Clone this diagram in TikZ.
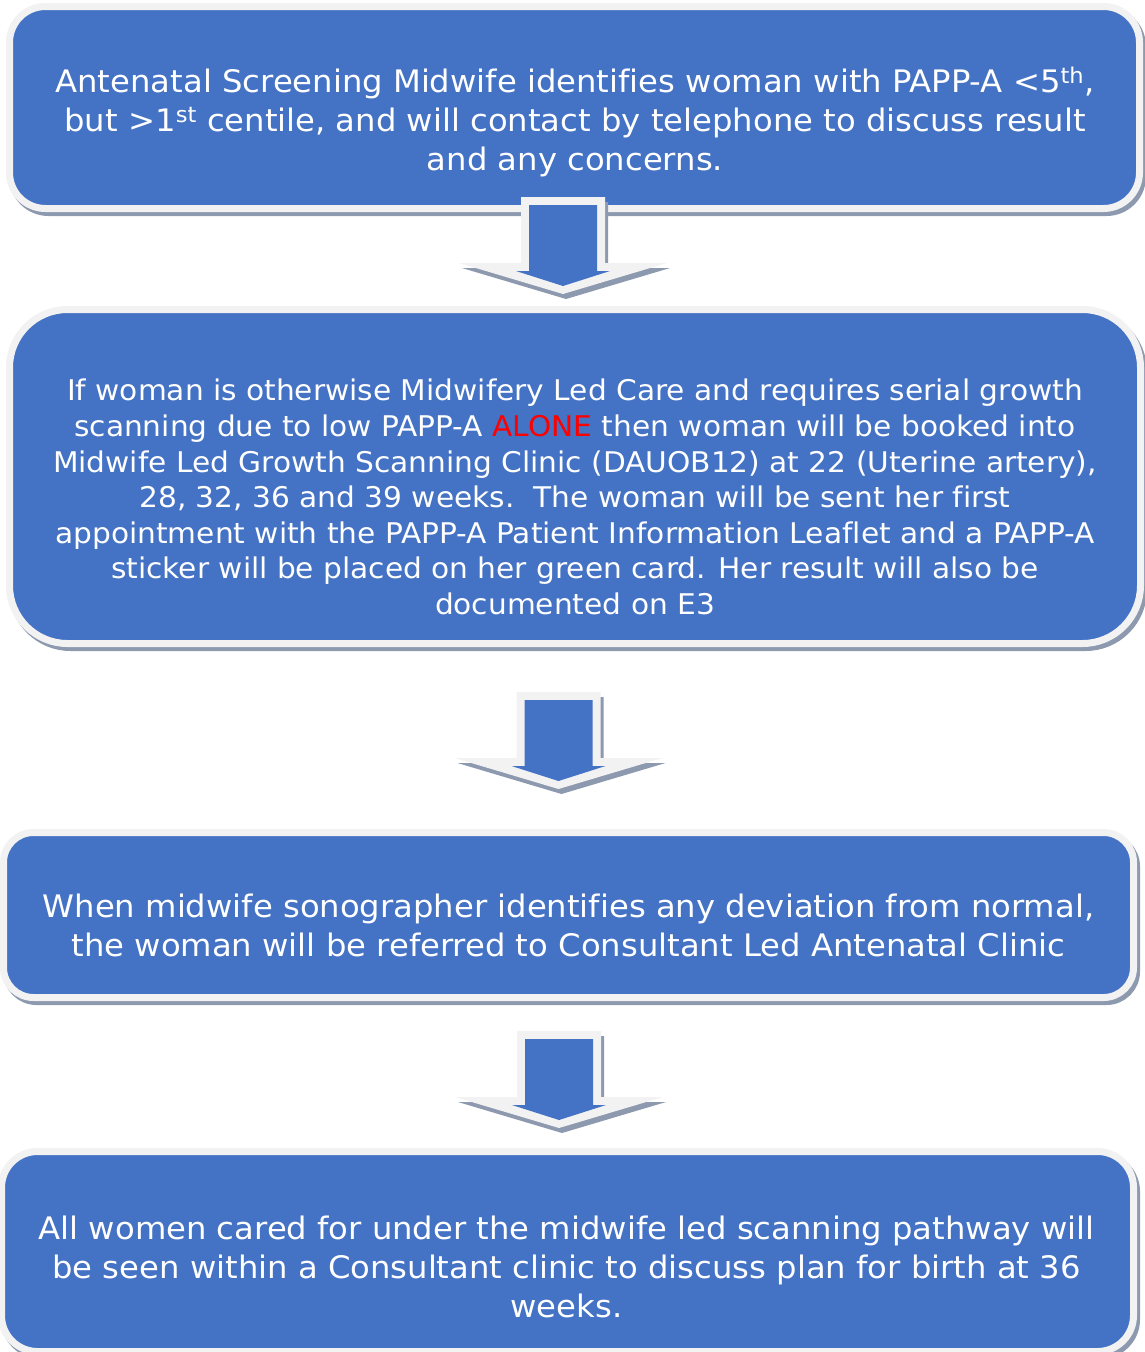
\documentclass[tikz,border=0pt]{standalone}
\usepackage{fontspec}
\setmainfont[FakeStretch=1.04,Ligatures=NoCommon]{DejaVu Sans}
\definecolor{boxblue}{HTML}{4472C4}
\definecolor{framec}{HTML}{F2F2F2}
\definecolor{shadowc}{HTML}{8C99AE}
\definecolor{alonered}{HTML}{FF0000}
\begin{document}
\begin{tikzpicture}[x=1pt,y=-1pt,
  boxst/.style={draw=framec, line width=7pt, fill=boxblue, inner sep=0pt, outer sep=0pt, rectangle},
  shadowst/.style={draw=shadowc, fill=shadowc, line width=7pt},
  txt/.style={text=white, align=center, inner sep=0pt},
  bigtxt/.style={txt, font=\fontsize{31}{39}\selectfont},
  smalltxt/.style={txt, font=\fontsize{28.5}{35.6}\selectfont},
]
\useasboundingbox (0,0) rectangle (1144,1352);
\fill[white] (0,0) rectangle (1144,1352);

% box shadows
\draw[shadowst, rounded corners=36pt] (12.5,10.5) rectangle (1142.5,212.5);
\draw[shadowst, rounded corners=58pt] (12.5,313.5) rectangle (1143.5,647.5);
\draw[shadowst, rounded corners=30pt] (6.5,836.5) rectangle (1136.5,1001.5);
\draw[shadowst, rounded corners=36pt] (4.5,1155.5) rectangle (1136.5,1355.5);

% boxes
\node[boxst, rounded corners=36pt, minimum width=1130pt, minimum height=202pt] (b1) at (574.5,107.5) {};
\node[boxst, rounded corners=58pt, minimum width=1131pt, minimum height=334pt] (b2) at (575,476.5) {};
\node[boxst, rounded corners=30pt, minimum width=1130pt, minimum height=165pt] (b3) at (568.5,915) {};
\node[boxst, rounded corners=36pt, minimum width=1132pt, minimum height=200pt] (b4) at (567.5,1251.5) {};

% block arrows
\foreach \cx/\ty in {563/197, 558.5/692, 559/1031}{
  \begin{scope}[shift={(\cx,\ty)}]
    \fill[shadowc] (-39,5) -- (45,5) -- (45,71) -- (107,71) -- (3,102) -- (-101,71) -- (-39,71) -- cycle;
    \fill[framec] (-42,0) -- (42,0) -- (42,66) -- (104,66) -- (0,97) -- (-104,66) -- (-42,66) -- cycle;
    \fill[boxblue] (-34,8) -- (34,8) -- (34,74) -- (47,74) -- (0,89) -- (-47,74) -- (-34,74) -- cycle;
  \end{scope}
}

% texts
\node[bigtxt] (t1) at (575,122) {Antenatal Screening Midwife identifies woman with PAPP-A <5\textsuperscript{th},\\
but >1\textsuperscript{st} centile, and will contact by telephone to discuss result\\
and any concerns.};
\node[smalltxt] (t2) at (575,497) {If woman is otherwise Midwifery Led Care and requires serial growth\\
scanning due to low PAPP-A \textcolor{alonered}{ALONE} then woman will be booked into\\
Midwife Led Growth Scanning Clinic (DAUOB12) at 22 (Uterine artery),\\
28, 32, 36 and 39 weeks.\ \ The woman will be sent her first\\
appointment with the PAPP-A Patient Information Leaflet and a PAPP-A\\
sticker will be placed on her green card. Her result will also be\\
documented on E3};
\node[bigtxt] (t3) at (568.5,925.5) {When midwife sonographer identifies any deviation from normal,\\
the woman will be referred to Consultant Led Antenatal Clinic};
\node[bigtxt] (t4) at (566.5,1267) {All women cared for under the midwife led scanning pathway will\\
be seen within a Consultant clinic to discuss plan for birth at 36\\
weeks.};
\end{tikzpicture}
\end{document}
